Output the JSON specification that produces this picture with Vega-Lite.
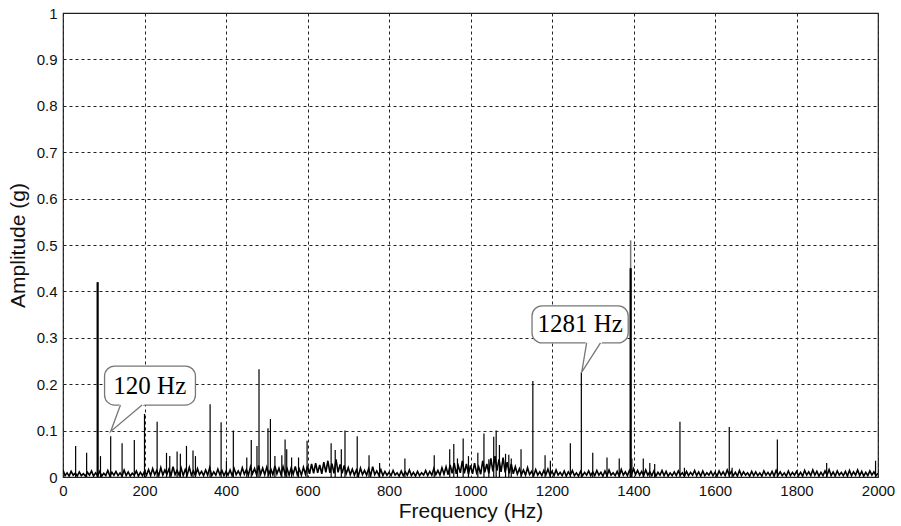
{
"$schema":"https://vega.github.io/schema/vega-lite/v6.json",
"width":815,"height":464,
"autosize":{"type":"none"},
"padding":{"left":63,"top":13,"right":23,"bottom":49},
"background":"white",
"config":{
 "view":{"stroke":"#222","strokeWidth":1.2},
 "axis":{"labelFont":"Liberation Sans","labelFontSize":15,"labelColor":"#111","titleFont":"Liberation Sans","titleFontSize":21,"titleFontWeight":"normal","titleColor":"#111","grid":true,"gridColor":"#222","gridDash":[3,3],"gridWidth":1,"gridOpacity":1,"ticks":false,"domain":false,"labelPadding":6,"labelOverlap":false},
 "axisX":{"labelFlush":false,"titlePadding":2},
 "axisY":{"titlePadding":8}
},
"datasets":{
"noise":[
{"f":0,"a":0.015},{"f":5,"a":0.003},{"f":10,"a":0.009},{"f":15,"a":0.002},{"f":20,"a":0.012},{"f":25,"a":0.004},{"f":30,"a":0.008},{"f":35,"a":0.002},{"f":40,"a":0.011},{"f":45,"a":0.003},{"f":50,"a":0.007},{"f":55,"a":0.002},{"f":60,"a":0.010},{"f":65,"a":0.004},{"f":70,"a":0.013},{"f":75,"a":0.002},{"f":80,"a":0.009},{"f":85,"a":0.003},{"f":90,"a":0.012},{"f":95,"a":0.002},
{"f":100,"a":0.008},{"f":105,"a":0.003},{"f":110,"a":0.014},{"f":115,"a":0.002},{"f":120,"a":0.010},{"f":125,"a":0.004},{"f":130,"a":0.012},{"f":135,"a":0.003},{"f":140,"a":0.009},{"f":145,"a":0.002},{"f":150,"a":0.015},{"f":155,"a":0.003},{"f":160,"a":0.011},{"f":165,"a":0.002},{"f":170,"a":0.008},{"f":175,"a":0.004},{"f":180,"a":0.013},{"f":185,"a":0.002},{"f":190,"a":0.010},{"f":195,"a":0.003},
{"f":200,"a":0.012},{"f":205,"a":0.004},{"f":210,"a":0.016},{"f":215,"a":0.003},{"f":220,"a":0.018},{"f":225,"a":0.005},{"f":230,"a":0.014},{"f":235,"a":0.003},{"f":240,"a":0.020},{"f":245,"a":0.004},{"f":250,"a":0.015},{"f":255,"a":0.006},{"f":260,"a":0.017},{"f":265,"a":0.003},{"f":270,"a":0.022},{"f":275,"a":0.005},{"f":280,"a":0.014},{"f":285,"a":0.004},{"f":290,"a":0.019},{"f":295,"a":0.003},
{"f":300,"a":0.016},{"f":305,"a":0.005},{"f":310,"a":0.021},{"f":315,"a":0.004},{"f":320,"a":0.013},{"f":325,"a":0.003},{"f":330,"a":0.018},{"f":335,"a":0.005},{"f":340,"a":0.012},{"f":345,"a":0.003},{"f":350,"a":0.015},{"f":355,"a":0.004},{"f":360,"a":0.020},{"f":365,"a":0.003},{"f":370,"a":0.011},{"f":375,"a":0.004},{"f":380,"a":0.017},{"f":385,"a":0.005},{"f":390,"a":0.014},{"f":395,"a":0.003},
{"f":400,"a":0.012},{"f":405,"a":0.004},{"f":410,"a":0.015},{"f":415,"a":0.003},{"f":420,"a":0.018},{"f":425,"a":0.005},{"f":430,"a":0.013},{"f":435,"a":0.004},{"f":440,"a":0.020},{"f":445,"a":0.006},{"f":450,"a":0.016},{"f":455,"a":0.004},{"f":460,"a":0.022},{"f":465,"a":0.007},{"f":470,"a":0.018},{"f":475,"a":0.005},{"f":480,"a":0.025},{"f":485,"a":0.006},{"f":490,"a":0.019},{"f":495,"a":0.005},
{"f":500,"a":0.021},{"f":505,"a":0.006},{"f":510,"a":0.017},{"f":515,"a":0.005},{"f":520,"a":0.024},{"f":525,"a":0.007},{"f":530,"a":0.019},{"f":535,"a":0.005},{"f":540,"a":0.022},{"f":545,"a":0.006},{"f":550,"a":0.018},{"f":555,"a":0.004},{"f":560,"a":0.020},{"f":565,"a":0.006},{"f":570,"a":0.023},{"f":575,"a":0.005},{"f":580,"a":0.017},{"f":585,"a":0.004},{"f":590,"a":0.021},{"f":595,"a":0.006},
{"f":600,"a":0.024},{"f":605,"a":0.007},{"f":610,"a":0.028},{"f":615,"a":0.008},{"f":620,"a":0.030},{"f":625,"a":0.009},{"f":630,"a":0.026},{"f":635,"a":0.007},{"f":640,"a":0.032},{"f":645,"a":0.010},{"f":650,"a":0.035},{"f":655,"a":0.009},{"f":660,"a":0.029},{"f":665,"a":0.008},{"f":670,"a":0.038},{"f":675,"a":0.010},{"f":680,"a":0.027},{"f":685,"a":0.008},{"f":690,"a":0.025},{"f":695,"a":0.007},
{"f":700,"a":0.020},{"f":705,"a":0.005},{"f":710,"a":0.017},{"f":715,"a":0.004},{"f":720,"a":0.015},{"f":725,"a":0.003},{"f":730,"a":0.019},{"f":735,"a":0.005},{"f":740,"a":0.014},{"f":745,"a":0.004},{"f":750,"a":0.018},{"f":755,"a":0.003},{"f":760,"a":0.022},{"f":765,"a":0.005},{"f":770,"a":0.013},{"f":775,"a":0.004},{"f":780,"a":0.016},{"f":785,"a":0.003},{"f":790,"a":0.012},{"f":795,"a":0.004},
{"f":800,"a":0.010},{"f":805,"a":0.003},{"f":810,"a":0.014},{"f":815,"a":0.004},{"f":820,"a":0.009},{"f":825,"a":0.002},{"f":830,"a":0.013},{"f":835,"a":0.003},{"f":840,"a":0.011},{"f":845,"a":0.004},{"f":850,"a":0.015},{"f":855,"a":0.003},{"f":860,"a":0.010},{"f":865,"a":0.002},{"f":870,"a":0.012},{"f":875,"a":0.003},{"f":880,"a":0.009},{"f":885,"a":0.004},{"f":890,"a":0.014},{"f":895,"a":0.003},
{"f":900,"a":0.012},{"f":905,"a":0.004},{"f":910,"a":0.018},{"f":915,"a":0.005},{"f":920,"a":0.014},{"f":925,"a":0.004},{"f":930,"a":0.020},{"f":935,"a":0.006},{"f":940,"a":0.022},{"f":945,"a":0.005},{"f":950,"a":0.026},{"f":955,"a":0.008},{"f":960,"a":0.030},{"f":965,"a":0.007},{"f":970,"a":0.024},{"f":975,"a":0.009},{"f":980,"a":0.035},{"f":985,"a":0.008},{"f":990,"a":0.028},{"f":995,"a":0.006},
{"f":1000,"a":0.025},{"f":1005,"a":0.007},{"f":1010,"a":0.030},{"f":1015,"a":0.009},{"f":1020,"a":0.022},{"f":1025,"a":0.006},{"f":1030,"a":0.035},{"f":1035,"a":0.010},{"f":1040,"a":0.028},{"f":1045,"a":0.008},{"f":1050,"a":0.040},{"f":1055,"a":0.012},{"f":1060,"a":0.045},{"f":1065,"a":0.014},{"f":1070,"a":0.038},{"f":1075,"a":0.011},{"f":1080,"a":0.042},{"f":1085,"a":0.010},{"f":1090,"a":0.032},{"f":1095,"a":0.008},
{"f":1100,"a":0.028},{"f":1105,"a":0.007},{"f":1110,"a":0.022},{"f":1115,"a":0.006},{"f":1120,"a":0.018},{"f":1125,"a":0.005},{"f":1130,"a":0.015},{"f":1135,"a":0.004},{"f":1140,"a":0.020},{"f":1145,"a":0.005},{"f":1150,"a":0.012},{"f":1155,"a":0.003},{"f":1160,"a":0.016},{"f":1165,"a":0.004},{"f":1170,"a":0.011},{"f":1175,"a":0.003},{"f":1180,"a":0.014},{"f":1185,"a":0.005},{"f":1190,"a":0.017},{"f":1195,"a":0.004},
{"f":1200,"a":0.012},{"f":1205,"a":0.003},{"f":1210,"a":0.015},{"f":1215,"a":0.004},{"f":1220,"a":0.010},{"f":1225,"a":0.003},{"f":1230,"a":0.013},{"f":1235,"a":0.002},{"f":1240,"a":0.011},{"f":1245,"a":0.004},{"f":1250,"a":0.014},{"f":1255,"a":0.003},{"f":1260,"a":0.009},{"f":1265,"a":0.002},{"f":1270,"a":0.012},{"f":1275,"a":0.003},{"f":1280,"a":0.010},{"f":1285,"a":0.004},{"f":1290,"a":0.013},{"f":1295,"a":0.003},
{"f":1300,"a":0.011},{"f":1305,"a":0.003},{"f":1310,"a":0.014},{"f":1315,"a":0.004},{"f":1320,"a":0.010},{"f":1325,"a":0.002},{"f":1330,"a":0.013},{"f":1335,"a":0.003},{"f":1340,"a":0.015},{"f":1345,"a":0.004},{"f":1350,"a":0.009},{"f":1355,"a":0.003},{"f":1360,"a":0.012},{"f":1365,"a":0.002},{"f":1370,"a":0.016},{"f":1375,"a":0.004},{"f":1380,"a":0.011},{"f":1385,"a":0.003},{"f":1390,"a":0.014},{"f":1395,"a":0.005},
{"f":1400,"a":0.018},{"f":1405,"a":0.005},{"f":1410,"a":0.014},{"f":1415,"a":0.004},{"f":1420,"a":0.012},{"f":1425,"a":0.003},{"f":1430,"a":0.015},{"f":1435,"a":0.004},{"f":1440,"a":0.011},{"f":1445,"a":0.003},{"f":1450,"a":0.013},{"f":1455,"a":0.002},{"f":1460,"a":0.010},{"f":1465,"a":0.004},{"f":1470,"a":0.014},{"f":1475,"a":0.003},{"f":1480,"a":0.012},{"f":1485,"a":0.002},{"f":1490,"a":0.009},{"f":1495,"a":0.003},
{"f":1500,"a":0.011},{"f":1505,"a":0.003},{"f":1510,"a":0.013},{"f":1515,"a":0.004},{"f":1520,"a":0.009},{"f":1525,"a":0.002},{"f":1530,"a":0.012},{"f":1535,"a":0.003},{"f":1540,"a":0.010},{"f":1545,"a":0.004},{"f":1550,"a":0.014},{"f":1555,"a":0.003},{"f":1560,"a":0.011},{"f":1565,"a":0.002},{"f":1570,"a":0.013},{"f":1575,"a":0.003},{"f":1580,"a":0.009},{"f":1585,"a":0.004},{"f":1590,"a":0.012},{"f":1595,"a":0.003},
{"f":1600,"a":0.010},{"f":1605,"a":0.002},{"f":1610,"a":0.013},{"f":1615,"a":0.004},{"f":1620,"a":0.011},{"f":1625,"a":0.003},{"f":1630,"a":0.015},{"f":1635,"a":0.004},{"f":1640,"a":0.012},{"f":1645,"a":0.003},{"f":1650,"a":0.010},{"f":1655,"a":0.002},{"f":1660,"a":0.014},{"f":1665,"a":0.003},{"f":1670,"a":0.011},{"f":1675,"a":0.004},{"f":1680,"a":0.009},{"f":1685,"a":0.002},{"f":1690,"a":0.012},{"f":1695,"a":0.003},
{"f":1700,"a":0.011},{"f":1705,"a":0.003},{"f":1710,"a":0.009},{"f":1715,"a":0.002},{"f":1720,"a":0.013},{"f":1725,"a":0.004},{"f":1730,"a":0.010},{"f":1735,"a":0.003},{"f":1740,"a":0.012},{"f":1745,"a":0.002},{"f":1750,"a":0.014},{"f":1755,"a":0.004},{"f":1760,"a":0.011},{"f":1765,"a":0.003},{"f":1770,"a":0.009},{"f":1775,"a":0.002},{"f":1780,"a":0.013},{"f":1785,"a":0.003},{"f":1790,"a":0.010},{"f":1795,"a":0.004},
{"f":1800,"a":0.012},{"f":1805,"a":0.003},{"f":1810,"a":0.010},{"f":1815,"a":0.002},{"f":1820,"a":0.014},{"f":1825,"a":0.004},{"f":1830,"a":0.011},{"f":1835,"a":0.003},{"f":1840,"a":0.015},{"f":1845,"a":0.004},{"f":1850,"a":0.012},{"f":1855,"a":0.002},{"f":1860,"a":0.010},{"f":1865,"a":0.003},{"f":1870,"a":0.013},{"f":1875,"a":0.004},{"f":1880,"a":0.016},{"f":1885,"a":0.003},{"f":1890,"a":0.011},{"f":1895,"a":0.002},
{"f":1900,"a":0.013},{"f":1905,"a":0.004},{"f":1910,"a":0.010},{"f":1915,"a":0.003},{"f":1920,"a":0.012},{"f":1925,"a":0.002},{"f":1930,"a":0.014},{"f":1935,"a":0.003},{"f":1940,"a":0.011},{"f":1945,"a":0.004},{"f":1950,"a":0.015},{"f":1955,"a":0.003},{"f":1960,"a":0.012},{"f":1965,"a":0.002},{"f":1970,"a":0.010},{"f":1975,"a":0.003},{"f":1980,"a":0.013},{"f":1985,"a":0.004},{"f":1990,"a":0.011},{"f":1995,"a":0.003},
{"f":2000,"a":0.008}
],
"peaks":[
{"f":31,"a":0.067},{"f":58,"a":0.052},{"f":92,"a":0.045},{"f":117,"a":0.088},{"f":145,"a":0.073},{"f":175,"a":0.08},{"f":200,"a":0.136},{"f":231,"a":0.119},{"f":254,"a":0.052},{"f":262,"a":0.045},{"f":280,"a":0.055},{"f":288,"a":0.05},{"f":303,"a":0.067},{"f":319,"a":0.057},{"f":325,"a":0.045},
{"f":361,"a":0.157},{"f":388,"a":0.118},{"f":401,"a":0.035},{"f":418,"a":0.1},{"f":451,"a":0.042},{"f":462,"a":0.08},{"f":476,"a":0.067},{"f":481,"a":0.232},{"f":503,"a":0.105},{"f":509,"a":0.125},{"f":520,"a":0.045},{"f":537,"a":0.047},{"f":545,"a":0.081},{"f":549,"a":0.06},{"f":561,"a":0.042},{"f":578,"a":0.042},{"f":599,"a":0.078},
{"f":658,"a":0.073},{"f":668,"a":0.058},{"f":683,"a":0.06},{"f":692,"a":0.1},{"f":722,"a":0.088},{"f":751,"a":0.047},{"f":777,"a":0.03},{"f":839,"a":0.04},{"f":911,"a":0.047},{"f":949,"a":0.06},{"f":959,"a":0.071},{"f":968,"a":0.04},{"f":982,"a":0.083},{"f":995,"a":0.045},
{"f":1018,"a":0.052},{"f":1033,"a":0.094},{"f":1045,"a":0.038},{"f":1057,"a":0.087},{"f":1063,"a":0.1},{"f":1071,"a":0.069},{"f":1086,"a":0.05},{"f":1094,"a":0.048},{"f":1100,"a":0.04},{"f":1124,"a":0.06},{"f":1153,"a":0.207},{"f":1183,"a":0.047},{"f":1196,"a":0.035},{"f":1245,"a":0.073},{"f":1272,"a":0.226},{"f":1300,"a":0.052},{"f":1335,"a":0.042},{"f":1365,"a":0.04},
{"f":1396,"a":0.04},{"f":1424,"a":0.04},{"f":1440,"a":0.03},{"f":1452,"a":0.028},{"f":1514,"a":0.119},{"f":1525,"a":0.02},{"f":1635,"a":0.108},{"f":1642,"a":0.02},{"f":1753,"a":0.081},{"f":1874,"a":0.03},{"f":1994,"a":0.035}
],
"fadedPeak":[{"f":1393,"a":0.51}],
"majorPeaks":[{"f":85,"a":0.42},{"f":1393,"a":0.45}],
"bubbles":[
{"label":"120 Hz","f":102,"f2":325,"a":0.155,"a2":0.239,"fc":213,"ac":0.197},
{"label":"1281 Hz","f":1151,"f2":1387,"a":0.289,"a2":0.369,"fc":1269,"ac":0.329}
],
"pointerFill":[
{"id":"p1","f":117,"a":0.098,"a2":0.098},{"id":"p1","f":141,"a":0.155,"a2":0.1158},{"id":"p1","f":194,"a":0.155,"a2":0.155},
{"id":"p2","f":1273,"a":0.226,"a2":0.226},{"id":"p2","f":1285,"a":0.289,"a2":0.2424},{"id":"p2","f":1319,"a":0.289,"a2":0.289}
],
"pointerEdge":[
{"id":"p1","k":1,"f":141,"a":0.155},{"id":"p1","k":2,"f":117,"a":0.098},{"id":"p1","k":3,"f":194,"a":0.155},
{"id":"p2","k":1,"f":1285,"a":0.289},{"id":"p2","k":2,"f":1273,"a":0.226},{"id":"p2","k":3,"f":1319,"a":0.289}
]
},
"layer":[
{"data":{"name":"noise"},"mark":{"type":"line","color":"black","strokeWidth":1.6,"clip":true},
 "encoding":{"x":{"field":"f","type":"quantitative","title":"Frequency (Hz)","scale":{"domain":[0,2000],"nice":false},"axis":{"values":[0,200,400,600,800,1000,1200,1400,1600,1800,2000],"format":"d"}},"y":{"field":"a","type":"quantitative","title":"Amplitude (g)","scale":{"domain":[0,1],"nice":false},"axis":{"values":[0,0.1,0.2,0.3,0.4,0.5,0.6,0.7,0.8,0.9,1],"format":"~g"}}}},
{"data":{"name":"peaks"},"mark":{"type":"rule","color":"black","strokeWidth":1.2},
 "encoding":{"x":{"field":"f","type":"quantitative","title":"Frequency (Hz)"},"y":{"field":"a","type":"quantitative","title":"Amplitude (g)"},"y2":{"datum":0}}},
{"data":{"name":"fadedPeak"},"mark":{"type":"rule","color":"#777","strokeWidth":1.5},
 "encoding":{"x":{"field":"f","type":"quantitative","title":"Frequency (Hz)"},"y":{"field":"a","type":"quantitative","title":"Amplitude (g)"},"y2":{"datum":0}}},
{"data":{"name":"majorPeaks"},"mark":{"type":"rule","color":"black","strokeWidth":2.2},
 "encoding":{"x":{"field":"f","type":"quantitative","title":"Frequency (Hz)"},"y":{"field":"a","type":"quantitative","title":"Amplitude (g)"},"y2":{"datum":0}}},
{"data":{"name":"bubbles"},"mark":{"type":"rect","fill":"white","stroke":"#777","strokeWidth":1.3,"cornerRadius":10},
 "encoding":{"x":{"field":"f","type":"quantitative","title":"Frequency (Hz)"},"x2":{"field":"f2"},"y":{"field":"a","type":"quantitative","title":"Amplitude (g)"},"y2":{"field":"a2"}}},
{"data":{"name":"pointerFill"},"mark":{"type":"area","fill":"white","stroke":"white","strokeWidth":2,"opacity":1},
 "encoding":{"x":{"field":"f","type":"quantitative","title":"Frequency (Hz)"},"y":{"field":"a","type":"quantitative","title":"Amplitude (g)"},"y2":{"field":"a2"},"detail":{"field":"id"}}},
{"data":{"name":"pointerEdge"},"mark":{"type":"line","color":"#777","strokeWidth":1.3},
 "encoding":{"x":{"field":"f","type":"quantitative","title":"Frequency (Hz)"},"y":{"field":"a","type":"quantitative","title":"Amplitude (g)"},"detail":{"field":"id"},"order":{"field":"k"}}},
{"data":{"name":"bubbles"},"mark":{"type":"text","font":"Liberation Serif","fontSize":25,"color":"black","align":"center","baseline":"middle"},
 "encoding":{"x":{"field":"fc","type":"quantitative","title":"Frequency (Hz)"},"y":{"field":"ac","type":"quantitative","title":"Amplitude (g)"},"text":{"field":"label"}}}
]
}
